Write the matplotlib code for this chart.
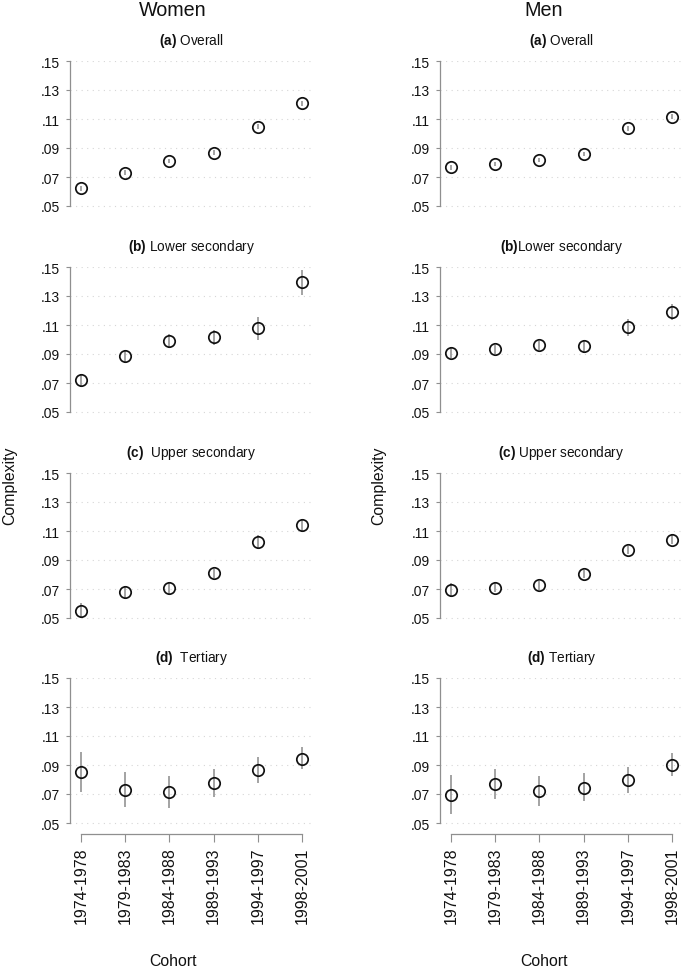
import matplotlib
matplotlib.use("Agg")
import matplotlib.pyplot as plt
import numpy as np

plt.rcParams['font.family'] = ['Liberation Sans', 'DejaVu Sans']
plt.rcParams['mathtext.fontset'] = 'custom'
plt.rcParams['mathtext.rm'] = 'Liberation Sans'
plt.rcParams['mathtext.bf'] = 'Liberation Sans:bold'

cohorts = ["1974-1978", "1979-1983", "1984-1988", "1989-1993", "1994-1997", "1998-2001"]
yticks = [0.05, 0.07, 0.09, 0.11, 0.13, 0.15]
ytick_labels = [".05", ".07", ".09", ".11", ".13", ".15"]

panel_titles_women = [r"$\mathbf{(a)}$ Overall", r"$\mathbf{(b)}$ Lower secondary",
                      r"$\mathbf{(c)}$  Upper secondary", r"$\mathbf{(d)}$  Tertiary"]
panel_titles_men = [r"$\mathbf{(a)}$ Overall", r"$\mathbf{(b)}$Lower secondary",
                    r"$\mathbf{(c)}$ Upper secondary", r"$\mathbf{(d)}$ Tertiary"]

# Women: point estimates, lower and upper CI bounds
women_overall = [0.0622, 0.0729, 0.0809, 0.0867, 0.1047, 0.1207]
women_overall_lo = [0.0605, 0.0713, 0.0794, 0.0851, 0.1030, 0.1188]
women_overall_hi = [0.0639, 0.0745, 0.0824, 0.0883, 0.1064, 0.1226]

women_lower = [0.0718, 0.0887, 0.0988, 0.1014, 0.1076, 0.1394]
women_lower_lo = [0.0673, 0.0845, 0.0943, 0.0963, 0.0997, 0.1305]
women_lower_hi = [0.0760, 0.0930, 0.1035, 0.1065, 0.1156, 0.1477]

women_upper = [0.0551, 0.0676, 0.0706, 0.0808, 0.1023, 0.1139]
women_upper_lo = [0.0497, 0.0635, 0.0665, 0.0775, 0.0973, 0.1098]
women_upper_hi = [0.0601, 0.0718, 0.0747, 0.0840, 0.1074, 0.1181]

women_tert = [0.0852, 0.0731, 0.0713, 0.0773, 0.0863, 0.0944]
women_tert_lo = [0.0711, 0.0608, 0.0606, 0.0681, 0.0775, 0.0870]
women_tert_hi = [0.0988, 0.0855, 0.0824, 0.0870, 0.0954, 0.1021]

# Men
men_overall = [0.0766, 0.0789, 0.0819, 0.0858, 0.1037, 0.1117]
men_overall_lo = [0.0750, 0.0774, 0.0804, 0.0842, 0.1020, 0.1099]
men_overall_hi = [0.0782, 0.0804, 0.0834, 0.0874, 0.1054, 0.1135]

men_lower = [0.0909, 0.0932, 0.0960, 0.0955, 0.1084, 0.1192]
men_lower_lo = [0.0870, 0.0900, 0.0928, 0.0916, 0.1025, 0.1137]
men_lower_hi = [0.0948, 0.0964, 0.0992, 0.0994, 0.1143, 0.1247]

men_upper = [0.0694, 0.0707, 0.0726, 0.0804, 0.0970, 0.1041]
men_upper_lo = [0.0646, 0.0676, 0.0696, 0.0774, 0.0940, 0.1011]
men_upper_hi = [0.0742, 0.0738, 0.0756, 0.0834, 0.1000, 0.1071]

men_tert = [0.0695, 0.0767, 0.0718, 0.0744, 0.0797, 0.0902]
men_tert_lo = [0.0562, 0.0663, 0.0617, 0.0654, 0.0707, 0.0824]
men_tert_hi = [0.0831, 0.0872, 0.0826, 0.0843, 0.0886, 0.0980]

women = [(women_overall, women_overall_lo, women_overall_hi),
         (women_lower, women_lower_lo, women_lower_hi),
         (women_upper, women_upper_lo, women_upper_hi),
         (women_tert, women_tert_lo, women_tert_hi)]
men = [(men_overall, men_overall_lo, men_overall_hi),
       (men_lower, men_lower_lo, men_lower_hi),
       (men_upper, men_upper_lo, men_upper_hi),
       (men_tert, men_tert_lo, men_tert_hi)]

W, H = 685, 970
fig = plt.figure(figsize=(W / 100, H / 100), dpi=100)

AX_GRAY = "#8f8f8f"
row_tops = [62, 268, 474, 679]
col_lefts = [70, 440]
ax_w = 243
ax_h = 156
ylo = 0.05 - 11 / 1450

x = np.arange(1, 7)

for ci, (data, titles, colcenter) in enumerate([(women, panel_titles_women, 173),
                                                 (men, panel_titles_men, 544)]):
    left = col_lefts[ci]
    for ri in range(4):
        top = row_tops[ri]
        ax = fig.add_axes([left / W, 1 - (top + ax_h) / H, ax_w / W, ax_h / H])
        est, lo, hi = [np.array(v) for v in data[ri]]
        ax.vlines(x, lo, hi, colors="#8a8a8a", linewidth=1.1, zorder=2)
        ax.plot(x, est, linestyle="none", marker="o", markersize=8.2,
                markerfacecolor="none", markeredgecolor="#111111",
                markeredgewidth=1.25, zorder=3)
        ax.set_xlim(0.75, 6.25)
        ax.set_ylim(ylo, 0.15)
        ax.set_yticks(yticks)
        ax.set_yticklabels(ytick_labels)
        for yv in yticks:
            ax.axhline(yv, color="#d6d6d6", linewidth=0.8,
                       linestyle=(0, (1, 4)), zorder=1)
        for s in ["top", "right"]:
            ax.spines[s].set_visible(False)
        ax.spines["left"].set_bounds(0.05, 0.15)
        ax.spines["left"].set_color(AX_GRAY)
        ax.spines["left"].set_linewidth(0.9)
        ax.tick_params(axis="y", length=3, width=0.8, color=AX_GRAY,
                       labelsize=10, pad=4.2, labelcolor="#111111")
        if ri == 3:
            ax.spines["bottom"].set_bounds(1, 6)
            ax.spines["bottom"].set_color(AX_GRAY)
            ax.spines["bottom"].set_linewidth(0.9)
            ax.set_xticks(x)
            ax.set_xticklabels(cohorts, rotation=90)
            ax.tick_params(axis="x", length=6, width=0.8, color=AX_GRAY,
                           labelsize=11.5, pad=3, labelcolor="#111111")
        else:
            ax.spines["bottom"].set_visible(False)
            ax.set_xticks([])
        # panel title
        fig.text((left + ax_w / 2) / W, 1 - (top - 21) / H, titles[ri],
                 ha="center", va="center", fontsize=9.8, color="#111111")
    # column header, y label and x label
    fig.text(colcenter / W, 1 - 11 / H, ["Women", "Men"][ci], ha="center",
             va="center", fontsize=14.2, color="#111111")
    fig.text([10, 379][ci] / W, 1 - 486 / H, "Complexity", rotation=90,
             ha="center", va="center", fontsize=11.4, color="#111111")
    fig.text(colcenter / W, 1 - 962 / H, "Cohort", ha="center", va="center",
             fontsize=11.4, color="#111111")

fig.savefig("out.png", dpi=100, facecolor="white")
